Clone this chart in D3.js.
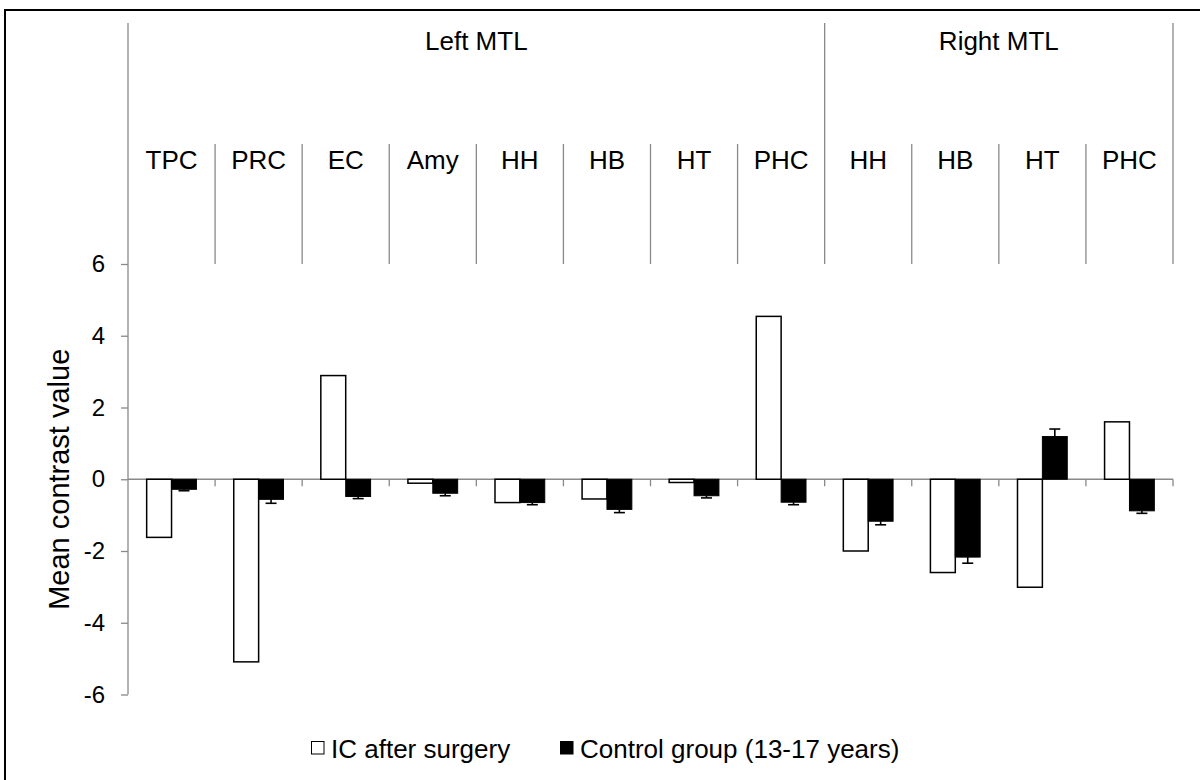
<!DOCTYPE html>
<html><head><meta charset="utf-8">
<script src="https://cdn.jsdelivr.net/npm/d3@7"></script>
<style>
body{margin:0;background:#fff}
svg{display:block}
text{font-family:Arial,"Liberation Sans",sans-serif;fill:#000}
</style>
</head><body>
<svg id="c" width="1200" height="780"></svg>
<script>
// ---- data ----
const regions = ["TPC","PRC","EC","Amy","HH","HB","HT","PHC","HH","HB","HT","PHC"];
const groups = ["Left MTL","Right MTL"];
const groupOf = [0,0,0,0,0,0,0,0,1,1,1,1];
const icValues = [-1.62,-5.09,2.89,-0.11,-0.65,-0.55,-0.09,4.54,-2.0,-2.6,-3.01,1.6];
const controlValues = [-0.28,-0.56,-0.48,-0.39,-0.65,-0.84,-0.46,-0.64,-1.17,-2.17,1.19,-0.88];
const controlErrors = [0.04,0.11,0.06,0.07,0.06,0.09,0.06,0.07,0.10,0.17,0.21,0.07];
const yTicks = [-6,-4,-2,0,2,4,6];
const seriesNames = ["IC after surgery","Control group (13-17 years)"];
const yTitle = "Mean contrast value";

// ---- layout ----
const W = 1200, H = 780;
const grey = "#898989";
const svg = d3.select("#c");
svg.append("rect").attr("width", W).attr("height", H).attr("fill", "#fff");
svg.append("path").attr("d", "M5,800V10H1220").attr("fill", "none").attr("stroke", "#000").attr("stroke-width", 2);

const idx = d3.range(regions.length);
const x = d3.scaleBand().domain(idx).range([128, 1173]).paddingInner(0).paddingOuter(0);
const inner = d3.scaleBand().domain([0, 1]).range([0, x.bandwidth()]).paddingInner(0).paddingOuter(0.75);
const y = d3.scaleLinear().domain([-6, 6]).range([694.5, 264]);
const y0 = y(0);
const left = x.range()[0], right = x.range()[1];
const boundaries = d3.range(regions.length + 1).map(i => left + i * x.step());
const groupBounds = [0, 8, 12];

// y axis
const yAxis = d3.axisLeft(y).tickValues(yTicks).tickFormat(d => String(d)).tickSize(7).tickPadding(16);
const gy = svg.append("g").attr("transform", `translate(${left},0)`).call(yAxis);
gy.select(".domain").remove();
gy.selectAll(".tick line").attr("stroke", grey).attr("stroke-width", 1.3);
gy.selectAll(".tick text").style("font-size", "24px").attr("fill", "#000");

// left axis line (extends through header)
svg.append("line").attr("x1", left).attr("x2", left).attr("y1", 23).attr("y2", y(-6))
  .attr("stroke", grey).attr("stroke-width", 1.3);

// header separators
svg.append("g").selectAll("line").data(boundaries.slice(1)).join("line")
  .attr("x1", d => d).attr("x2", d => d)
  .attr("y1", (d, i) => groupBounds.includes(i + 1) ? 23 : 144)
  .attr("y2", y(6))
  .attr("stroke", grey).attr("stroke-width", 1.3);

// category labels
svg.append("g").selectAll("text").data(idx).join("text")
  .attr("x", i => x(i) + x.bandwidth() / 2).attr("y", 169)
  .attr("text-anchor", "middle").style("font-size", "26px")
  .text(i => regions[i]);

// group labels
svg.append("g").selectAll("text").data(groups).join("text")
  .attr("x", (g, gi) => {
    const members = idx.filter(i => groupOf[i] === gi);
    return (x(members[0]) + x(members[members.length - 1]) + x.bandwidth()) / 2;
  })
  .attr("y", 50).attr("text-anchor", "middle").style("font-size", "26px")
  .text(d => d);

// zero line + ticks
svg.append("line").attr("x1", left).attr("x2", right).attr("y1", y0).attr("y2", y0)
  .attr("stroke", grey).attr("stroke-width", 1.5);
svg.append("g").selectAll("line").data(boundaries.slice(1)).join("line")
  .attr("x1", d => d).attr("x2", d => d).attr("y1", y0).attr("y2", y0 + 7)
  .attr("stroke", grey).attr("stroke-width", 1.3);

// bars
const bw = inner.bandwidth();
svg.append("g").selectAll("rect").data(idx).join("rect")
  .attr("x", i => x(i) + inner(0)).attr("width", bw)
  .attr("y", i => y(Math.max(0, icValues[i])))
  .attr("height", i => Math.abs(y(icValues[i]) - y0))
  .attr("fill", "#fff").attr("stroke", "#000").attr("stroke-width", 1.5);
svg.append("g").selectAll("rect").data(idx).join("rect")
  .attr("x", i => x(i) + inner(1)).attr("width", bw)
  .attr("y", i => y(Math.max(0, controlValues[i])))
  .attr("height", i => Math.abs(y(controlValues[i]) - y0))
  .attr("fill", "#000").attr("stroke", "#000").attr("stroke-width", 1);

// error bars (one-sided, away from zero)
const eg = svg.append("g").attr("stroke", "#000").attr("stroke-width", 1.6);
idx.forEach(i => {
  const v = controlValues[i], s = Math.sign(v), e = v + s * controlErrors[i];
  const cx = x(i) + inner(1) + bw / 2;
  eg.append("line").attr("x1", cx).attr("x2", cx).attr("y1", y(v)).attr("y2", y(e));
  eg.append("line").attr("x1", cx - 5.5).attr("x2", cx + 5.5).attr("y1", y(e)).attr("y2", y(e));
});

// y title
svg.append("text").attr("transform", `translate(69,${(y(6) + y(-6)) / 2}) rotate(-90)`)
  .attr("text-anchor", "middle").style("font-size", "29px").text(yTitle);

// legend
const legendX = [311, 560];
const lg = svg.append("g");
seriesNames.forEach((name, k) => {
  lg.append("rect").attr("x", legendX[k] + 0.5).attr("y", 741.5).attr("width", 12.5).attr("height", 12.5)
    .attr("fill", k === 0 ? "#fff" : "#000").attr("stroke", "#000").attr("stroke-width", 1);
  lg.append("text").attr("x", legendX[k] + 20).attr("y", 758).style("font-size", "26px").text(name);
});
</script>
</body></html>
